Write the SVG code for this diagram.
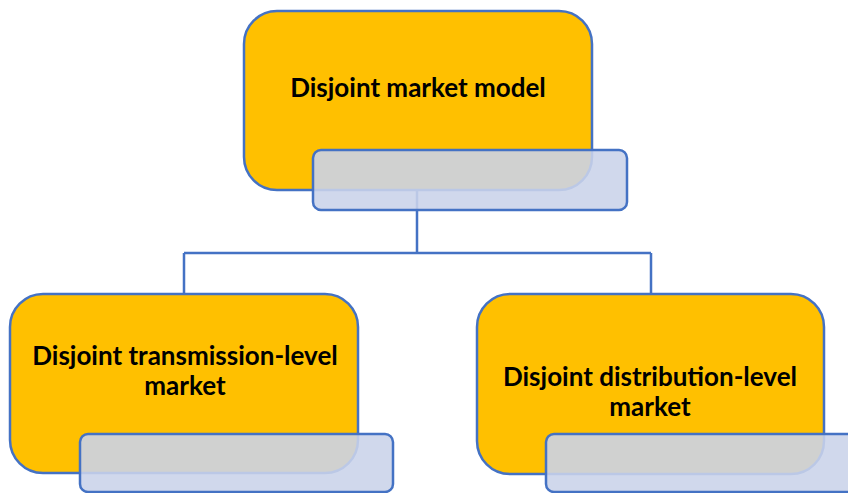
<svg xmlns="http://www.w3.org/2000/svg" width="848" height="493" viewBox="0 0 848 493">
<style>
.box{fill:#FFC000;stroke:#4472C4;stroke-width:2.5}
.tab{fill:#CAD3EA;fill-opacity:0.89;stroke:#4472C4;stroke-width:2.5}
.lbl{font-family:Lato,"Liberation Sans",sans-serif;font-weight:bold;font-size:26px;fill:#000;text-anchor:middle}
.conn{fill:none;stroke:#4472C4;stroke-width:2.5}
</style>
<rect width="848" height="493" fill="#fff"/>
<g id="connectors">
<path class="conn" d="M417 190 V253 M184 253 H651 M184 253 V294 M651 253 V294"/>
</g>
<g id="node-top">
<rect class="box" x="244" y="11" width="348" height="179" rx="33"/>
<text class="lbl" x="418" y="97">Disjoint market model</text>
<rect class="tab" x="313" y="150" width="314" height="60" rx="8"/>
</g>
<g id="node-left">
<rect class="box" x="10" y="294" width="348" height="179" rx="33"/>
<text class="lbl" x="185" y="365">Disjoint transmission-level</text>
<text class="lbl" x="185" y="395">market</text>
<rect class="tab" x="80" y="434" width="313" height="58" rx="8"/>
</g>
<g id="node-right">
<rect class="box" x="477" y="294" width="347" height="180" rx="33"/>
<text class="lbl" x="650" y="386">Disjoint distribution-level</text>
<text class="lbl" x="650" y="416">market</text>
<rect class="tab" x="546" y="434" width="314" height="58" rx="8"/>
</g>
</svg>
